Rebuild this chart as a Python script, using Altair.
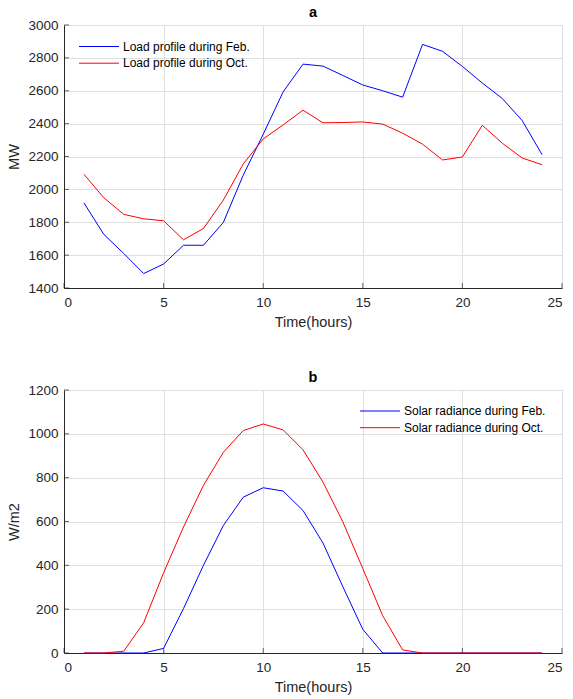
import altair as alt
import pandas as pd

hours = list(range(1, 25))
load_feb = [1918, 1726, 1610, 1488, 1546, 1660, 1660, 1799, 2087, 2335, 2593, 2762,
            2750, 2693, 2635, 2600, 2561, 2882, 2840, 2748, 2647, 2553, 2419, 2211]
load_oct = [2092, 1949, 1848, 1821, 1809, 1693, 1762, 1935, 2155, 2307, 2392, 2482,
            2405, 2407, 2410, 2397, 2342, 2275, 2179, 2197, 2390, 2281, 2191, 2150]
solar_feb = [0, 0, 0, 0, 21, 203, 400, 582, 711, 754, 739, 650,
             502, 302, 108, 0, 0, 0, 0, 0, 0, 0, 0, 0]
solar_oct = [0, 0, 8, 138, 366, 575, 765, 916, 1015, 1045, 1018, 927,
             780, 598, 385, 170, 14, 0, 0, 0, 0, 0, 0, 0]

load_names = ["Load profile during Feb.", "Load profile during Oct."]
solar_names = ["Solar radiance during Feb.", "Solar radiance during Oct."]
series_colors = ["#0000ff", "#ff0000"]
x_ticks = [0, 5, 10, 15, 20, 25]
load_ticks = [1400, 1600, 1800, 2000, 2200, 2400, 2600, 2800, 3000]
solar_ticks = [0, 200, 400, 600, 800, 1000, 1200]

FONT = "Liberation Sans"
AX = "#262626"
GRID = "#dfdfdf"
W, H = 498, 263


def panel(title, names, feb, octv, yticks, ytitle, legend_x, legend_y):
    df = pd.DataFrame({
        "hour": hours + hours,
        "value": feb + octv,
        "series": [names[0]] * len(hours) + [names[1]] * len(hours),
    })
    color = alt.Color("series:N", scale=alt.Scale(domain=names, range=series_colors), legend=None)
    xs = alt.Scale(domain=[x_ticks[0], x_ticks[-1]], nice=False, zero=False)
    ys = alt.Scale(domain=[yticks[0], yticks[-1]], nice=False, zero=False)
    xax = alt.Axis(values=x_ticks, title="Time(hours)", ticks=False, grid=True,
                   labelPadding=7, titlePadding=7, format="d")
    yax = alt.Axis(values=yticks, title=ytitle, ticks=False, grid=True,
                   labelPadding=6, titlePadding=6, format="d")

    def X(field="hour"):
        return alt.X(f"{field}:Q", scale=xs, axis=xax)

    def Y(field="value"):
        return alt.Y(f"{field}:Q", scale=ys, axis=yax)

    lines = alt.Chart(df).mark_line(strokeWidth=1).encode(
        x=X(), y=Y(), color=color, order="hour:Q")

    xt = alt.Chart(pd.DataFrame({"hour": x_ticks})).mark_tick(
        orient="vertical", size=5, thickness=1, color=AX).encode(
        x=X(), y=alt.value(H - 2.5))
    yt = alt.Chart(pd.DataFrame({"value": yticks})).mark_tick(
        orient="horizontal", size=5, thickness=1, color=AX).encode(
        y=Y(), x=alt.value(2.5))

    layers = [lines, xt, yt]
    for i, name in enumerate(names):
        ly = legend_y + i * 16.7
        ldf = pd.DataFrame({"label": [name], "row": [i]})
        layers.append(alt.Chart(ldf).mark_rule(
            stroke=series_colors[i], strokeWidth=1).encode(
            x=alt.value(legend_x), x2=alt.value(legend_x + 40), y=alt.value(ly)))
        layers.append(alt.Chart(ldf).mark_text(
            align="left", baseline="middle", fontSize=12, font=FONT, fill="#000000").encode(
            text="label:N", x=alt.value(legend_x + 44), y=alt.value(ly)))

    return alt.layer(*layers).properties(
        width=W, height=H,
        title=alt.TitleParams(title, fontSize=14.5, fontWeight="bold", font=FONT,
                              color="#000000", anchor="middle", offset=-2),
    )


top = panel("a", load_names, load_feb, load_oct, load_ticks, "MW", 15, 21.5)
bottom = panel("b", solar_names, solar_feb, solar_oct, solar_ticks, "W/m2", 296, 21.0)

chart = alt.vconcat(top, bottom, spacing=40).properties(
    padding={"left": 6, "top": 4, "right": 8, "bottom": 2},
    background="#ffffff",
).resolve_scale(color="independent").configure_view(stroke=None).configure_axis(
    domainColor=AX, domainWidth=1, labelColor=AX, titleColor=AX,
    labelFont=FONT, titleFont=FONT, labelFontSize=13.5, titleFontSize=14.5,
    titleFontWeight="normal", gridColor=GRID, gridWidth=1,
).configure_title(font=FONT)

chart.save("out.html", embed_options={"renderer": "svg", "actions": False})
